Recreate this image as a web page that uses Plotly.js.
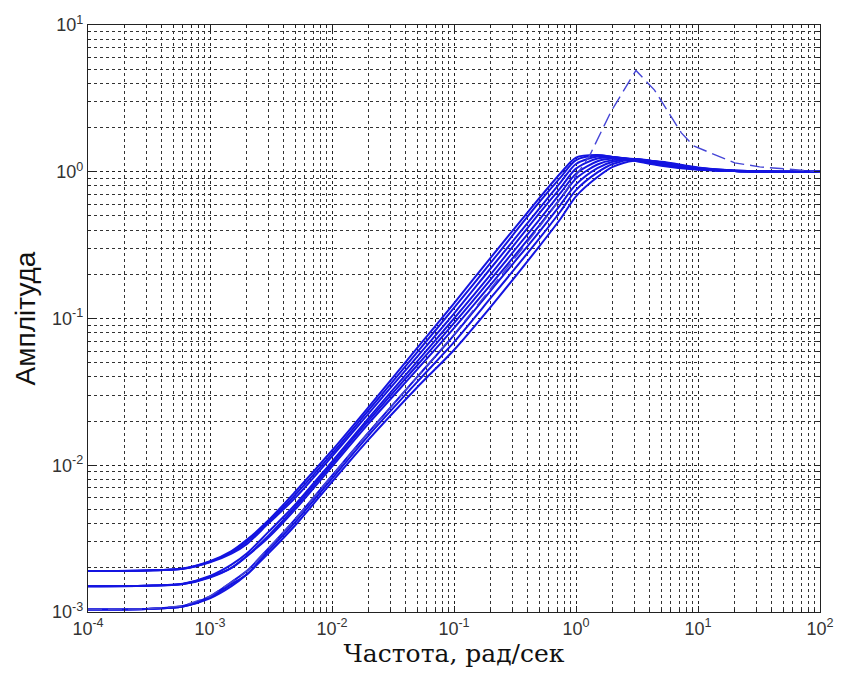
<!DOCTYPE html>
<html>
<head>
<meta charset="utf-8">
<script src="https://cdn.plot.ly/plotly-3.0.1.min.js"></script>
<style>html,body{margin:0;padding:0;background:#fff;}#chart{width:846px;height:690px;}</style>
</head>
<body>
<div id="chart"></div>
<script>
// Frequency grid (rad/s) shared by the solid curves
const freq = [1e-4, 3e-4, 6e-4, 1e-3, 1.5e-3, 2e-3, 3e-3, 5e-3, 1e-2, 2e-2, 5e-2, 0.1, 0.2, 0.5, 0.75, 1, 1.5, 2, 3, 5, 10, 20, 50, 100];

// Solid amplitude curves
const ampT1 = [0.0019, 0.00192, 0.00198, 0.00222, 0.0026, 0.0031, 0.0042, 0.0066, 0.0126, 0.025, 0.063, 0.127, 0.26, 0.66, 0.98, 1.25, 1.3, 1.26, 1.19, 1.1, 1.03, 1.01, 1.0, 1.0];
const ampT2 = [0.0019, 0.00192, 0.00197, 0.0022, 0.00255, 0.003, 0.0041, 0.0063, 0.012, 0.0238, 0.059, 0.118, 0.24, 0.62, 0.92, 1.2, 1.29, 1.26, 1.2, 1.11, 1.04, 1.01, 1.0, 1.0];
const ampT3 = [0.0019, 0.00192, 0.00197, 0.00218, 0.0025, 0.0029, 0.004, 0.006, 0.0115, 0.0226, 0.055, 0.108, 0.22, 0.56, 0.85, 1.13, 1.27, 1.26, 1.21, 1.12, 1.04, 1.01, 1.0, 1.0];
const ampM1 = [0.0015, 0.00151, 0.00156, 0.00176, 0.0021, 0.0025, 0.0035, 0.0054, 0.0106, 0.021, 0.051, 0.1, 0.2, 0.52, 0.78, 1.05, 1.23, 1.25, 1.21, 1.13, 1.05, 1.01, 1.0, 1.0];
const ampM2 = [0.0015, 0.00151, 0.00155, 0.00174, 0.002, 0.0024, 0.0033, 0.0052, 0.0102, 0.0202, 0.048, 0.093, 0.185, 0.47, 0.72, 0.97, 1.18, 1.23, 1.22, 1.14, 1.05, 1.01, 1.0, 1.0];
const ampM3 = [0.0015, 0.00151, 0.00155, 0.00172, 0.002, 0.0024, 0.0032, 0.005, 0.0098, 0.0193, 0.045, 0.086, 0.17, 0.43, 0.66, 0.9, 1.12, 1.2, 1.22, 1.15, 1.05, 1.01, 1.0, 1.0];
const ampB1 = [0.00104, 0.00105, 0.0011, 0.00128, 0.0016, 0.0019, 0.0027, 0.0043, 0.0085, 0.0168, 0.04, 0.077, 0.155, 0.39, 0.6, 0.82, 1.06, 1.17, 1.22, 1.16, 1.06, 1.01, 1.0, 1.0];
const ampB2 = [0.00104, 0.00105, 0.00109, 0.00126, 0.00155, 0.0018, 0.0026, 0.0041, 0.0081, 0.016, 0.037, 0.069, 0.138, 0.35, 0.54, 0.75, 0.99, 1.13, 1.21, 1.16, 1.06, 1.02, 1.0, 1.0];
const ampB3 = [0.00104, 0.00105, 0.00109, 0.00124, 0.0015, 0.0018, 0.0025, 0.0039, 0.0077, 0.015, 0.034, 0.061, 0.12, 0.31, 0.48, 0.68, 0.92, 1.08, 1.19, 1.17, 1.07, 1.02, 1.0, 1.0];

// Dashed resonant curve
const freqDash = [1e-4, 3e-4, 6e-4, 1e-3, 1.5e-3, 2e-3, 3e-3, 5e-3, 1e-2, 2e-2, 5e-2, 0.1, 0.2, 0.5, 0.75, 1, 1.3, 1.95, 2.6, 3.1, 4.4, 7.3, 9.2, 20, 32, 100];
const ampDash  = [0.00104, 0.00105, 0.0011, 0.00128, 0.0016, 0.0019, 0.0027, 0.0043, 0.0085, 0.0168, 0.04, 0.078, 0.16, 0.42, 0.66, 0.95, 1.3, 2.6, 3.9, 4.9, 3.6, 1.84, 1.5, 1.15, 1.08, 1.0];

// Tick labels
const xTickVals = [1e-4, 1e-3, 1e-2, 1e-1, 1e0, 1e1, 1e2];
const xTickText = ['10<sup>-4</sup>', '10<sup>-3</sup>', '10<sup>-2</sup>', '10<sup>-1</sup>', '10<sup>0</sup>', '10<sup>1</sup>', '10<sup>2</sup>'];
const yTickVals = [1e-3, 1e-2, 1e-1, 1e0, 1e1];
const yTickText = ['10<sup>-3</sup>', '10<sup>-2</sup>', '10<sup>-1</sup>', '10<sup>0</sup>', '10<sup>1</sup>'];

const solid = [ampT1, ampT2, ampT3, ampM1, ampM2, ampM3, ampB1, ampB2, ampB3];
const lineColor = 'rgb(20,20,225)';
const traces = solid.map(a => ({
  x: freq, y: a, type: 'scatter', mode: 'lines',
  line: {color: lineColor, width: 2, shape: 'spline', smoothing: 0.8},
  hoverinfo: 'skip'
}));
traces.push({
  x: freqDash, y: ampDash, type: 'scatter', mode: 'lines',
  line: {color: 'rgb(70,70,215)', width: 1.4, dash: '14px,6px'},
  hoverinfo: 'skip'
});

const gridDash = '3px,3px';
const axisCommon = {
  type: 'log', showline: true, linecolor: '#222', linewidth: 1.2, mirror: 'ticks',
  ticks: 'inside', ticklen: 6, tickcolor: '#222',
  showgrid: true, gridcolor: '#222', gridwidth: 1, griddash: gridDash,
  zeroline: false, tickmode: 'array',
  tickfont: {family: 'Liberation Sans, Arial, sans-serif', size: 18, color: '#333'},
  minor: {ticks: 'inside', ticklen: 3, tickcolor: '#222', dtick: 'D1', showgrid: true, gridcolor: '#333', griddash: gridDash, gridwidth: 1}
};

const layout = {
  width: 846, height: 690,
  margin: {l: 88, r: 26, t: 25, b: 78},
  paper_bgcolor: '#fff', plot_bgcolor: '#fff',
  showlegend: false,
  xaxis: Object.assign({}, axisCommon, {
    range: [-4, 2], tickvals: xTickVals, ticktext: xTickText,
    title: {text: 'Частота, рад/сек', font: {family: 'DejaVu Serif, serif', size: 25, color: '#111'}, standoff: 4}
  }),
  yaxis: Object.assign({}, axisCommon, {
    range: [-3, 1], tickvals: yTickVals, ticktext: yTickText,
    title: {text: 'Амплітуда', font: {family: 'Liberation Sans, Arial, sans-serif', size: 28, color: '#111'}, standoff: 8}
  })
};

Plotly.newPlot('chart', traces, layout, {displayModeBar: false, staticPlot: true});
</script>
</body>
</html>
